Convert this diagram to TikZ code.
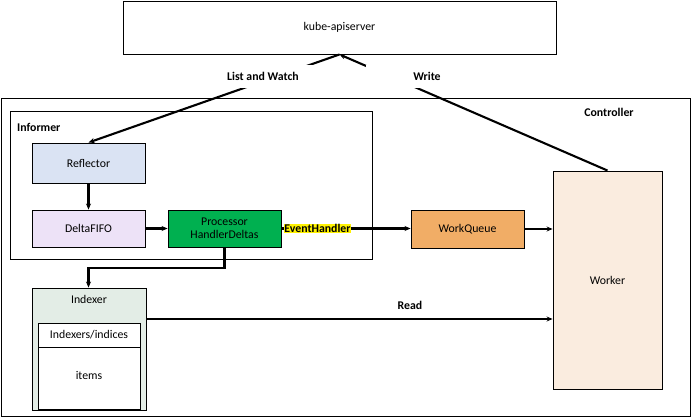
\documentclass[tikz,border=0pt]{standalone}
\usepackage{fontspec}
\setmainfont{Carlito}
\usetikzlibrary{arrows.meta}
\definecolor{reflc}{HTML}{DAE3F3}
\definecolor{fifoc}{HTML}{EDE2F7}
\definecolor{procc}{HTML}{00B050}
\definecolor{wqc}{HTML}{F1AD66}
\definecolor{workc}{HTML}{FAECDF}
\definecolor{idxc}{HTML}{E3EDE6}
\newcommand{\basefont}{\fontsize{11.8}{13.5}\selectfont}
\tikzset{
  box/.style={draw=black, line width=0.9pt, rectangle, inner sep=0pt, align=center},
  conn/.style={draw=black, line width=2.1pt, -{Stealth[length=6pt,width=5pt]}},
  lbl/.style={font=\basefont\bfseries, inner sep=0pt},
  wlbl/.style={font=\basefont\bfseries, fill=white, minimum height=23pt, inner sep=0pt}
}
\begin{document}
\begin{tikzpicture}[x=1pt,y=-1pt, font=\basefont]
\useasboundingbox (0,0) rectangle (691,417);
% containers
\node[box, minimum width=433pt, minimum height=53pt] (api) at (339.5,27.5) {kube-apiserver};
\node[box, minimum width=689pt, minimum height=318pt] (ctrl) at (345.5,257) {};
\node[lbl] (ctrllbl) at (609,112) {Controller};
\node[box, minimum width=362pt, minimum height=148pt] (inf) at (191,185) {};
\node[lbl, anchor=west] (inflbl) at (17,127.5) {Informer};
% inner boxes
\node[box, fill=reflc, minimum width=113pt, minimum height=40pt] (refl) at (88.5,163) {Reflector};
\node[box, fill=fifoc, minimum width=113pt, minimum height=37pt] (fifo) at (88.5,228.5) {DeltaFIFO};
\node[box, fill=procc, minimum width=113pt, minimum height=37pt] (proc) at (224.5,228.5) {Processor\\HandlerDeltas};
\node[box, fill=wqc, minimum width=113pt, minimum height=38pt] (wq) at (467.5,229) {WorkQueue};
\node[box, fill=workc, minimum width=109pt, minimum height=218pt] (work) at (607.5,280) {Worker};
\node[box, fill=idxc, minimum width=114pt, minimum height=122pt] (idx) at (89,349) {};
\node (idxlbl) at (89,299.5) {Indexer};
\node[box, fill=white, minimum width=102pt, minimum height=24pt] (indices) at (89,335) {Indexers/indices};
\node[box, fill=white, minimum width=102pt, minimum height=62pt] (items) at (89,378) {};
\node (itemslbl) at (89,375.5) {items};
% connectors
\draw[conn] (api.south) -- (refl.north);
\draw[conn] (work.north) -- (api.south);
\node[wlbl, minimum width=100pt] (lw) at (263,76.5) {List and Watch};
\node[wlbl, minimum width=122pt] (wr) at (427,76.5) {Write};
\draw[conn] (refl.south) -- (fifo.north);
\draw[conn] (fifo.east) -- (proc.east -| proc.west);
\coordinate (wqin) at (wq.west |- proc.east);
\draw[conn] (proc.east) -- (wqin);
\node[lbl, fill=yellow, inner sep=0.6pt] (eh) at (317.5,228.5) {EventHandler};
\draw[conn] (wq.east) -- (wq.east -| work.west);
\coordinate (bend1) at (224.5,268);
\coordinate (bend2) at (88.5,268);
\draw[conn] (proc.south) -- (bend1) -- (bend2) -- (idx.north -| bend2);
\coordinate (rdin) at (work.west |- 0,319);
\draw[conn, line width=2.5pt] (idx.east |- rdin) -- (rdin);
\node[lbl] (rdlbl) at (410,305.5) {Read};
\end{tikzpicture}
\end{document}
